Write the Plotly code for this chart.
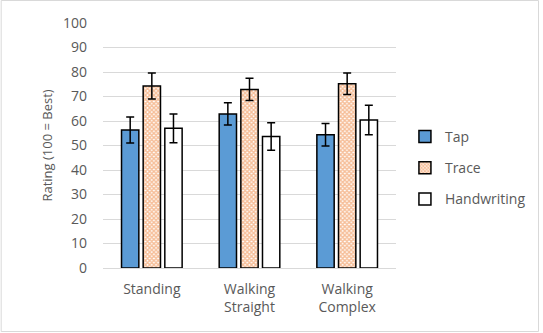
import plotly.graph_objects as go

categories = ["Standing", "Walking<br>Straight", "Walking<br>Complex"]
series_names = ["Tap", "Trace", "Handwriting"]
tap = [56.3, 62.9, 54.4]
tap_err = [5.3, 4.5, 4.6]
trace = [74.3, 72.9, 75.2]
trace_err = [5.3, 4.5, 4.4]
hand = [57.0, 53.7, 60.4]
hand_err = [5.9, 5.6, 6.0]
y_ticks = [0, 10, 20, 30, 40, 50, 60, 70, 80, 90, 100]

L, R, T, B = 103, 145, 23, 65
W, H = 543, 333
pw, ph = W - L - R, H - T - B

gray = "#595959"
err_style = dict(type="data", thickness=1.5, width=4, color="black")

fig = go.Figure()
fig.add_trace(go.Bar(
    x=categories, y=tap, name=series_names[0], legendgroup="a",
    marker=dict(color="#5B9BD5", line=dict(color="black", width=1.5)),
    error_y=dict(array=tap_err, **err_style)))
fig.add_trace(go.Bar(
    x=categories, y=trace, name=series_names[1], legendgroup="b",
    marker=dict(color="white", line=dict(color="black", width=1.5),
                pattern=dict(shape="x", fgcolor="#ED7D31", bgcolor="white",
                             size=3, solidity=0.7)),
    error_y=dict(array=trace_err, **err_style)))
fig.add_trace(go.Bar(
    x=categories, y=hand, name=series_names[2], legendgroup="c",
    marker=dict(color="white", line=dict(color="black", width=1.5)),
    error_y=dict(array=hand_err, **err_style)))

fig.update_layout(
    width=W, height=H,
    margin=dict(l=L, r=R, t=T, b=B),
    paper_bgcolor="white", plot_bgcolor="white",
    font=dict(family="Open Sans", size=14, color=gray),
    barmode="group", bargap=0.335, bargroupgap=0.2,
    showlegend=True,
    legend=dict(x=(407 - L) / pw, xanchor="left", y=(268 - 168) / ph, yanchor="middle",
                tracegroupgap=10, font=dict(size=14, color=gray),
                bgcolor="rgba(0,0,0,0)"),
    xaxis=dict(showline=True, linecolor="#D9D9D9", linewidth=1, ticks="",
               ticklabelstandoff=8,
               tickfont=dict(size=14, color=gray)),
    yaxis=dict(range=[0, 100], tickvals=y_ticks, showgrid=True, gridcolor="#D9D9D9",
               gridwidth=1, zeroline=False, showline=False, ticks="",
               ticklabelstandoff=15,
               title=dict(text="Rating (100 = Best)", font=dict(size=13, color=gray), standoff=7),
               tickfont=dict(size=14, color=gray)),
    shapes=[dict(type="rect", xref="paper", yref="paper",
                 x0=(0.5 - L) / pw, x1=(W - 1.5 - L) / pw,
                 y0=(H - B - (H - 1.5)) / ph, y1=(H - B - 0.5) / ph,
                 line=dict(color="#D9D9D9", width=1), fillcolor="rgba(0,0,0,0)")],
)

fig.write_html("out.html", config={"displayModeBar": False},
               post_script="document.body.style.margin='0';document.body.style.overflow='hidden';")
